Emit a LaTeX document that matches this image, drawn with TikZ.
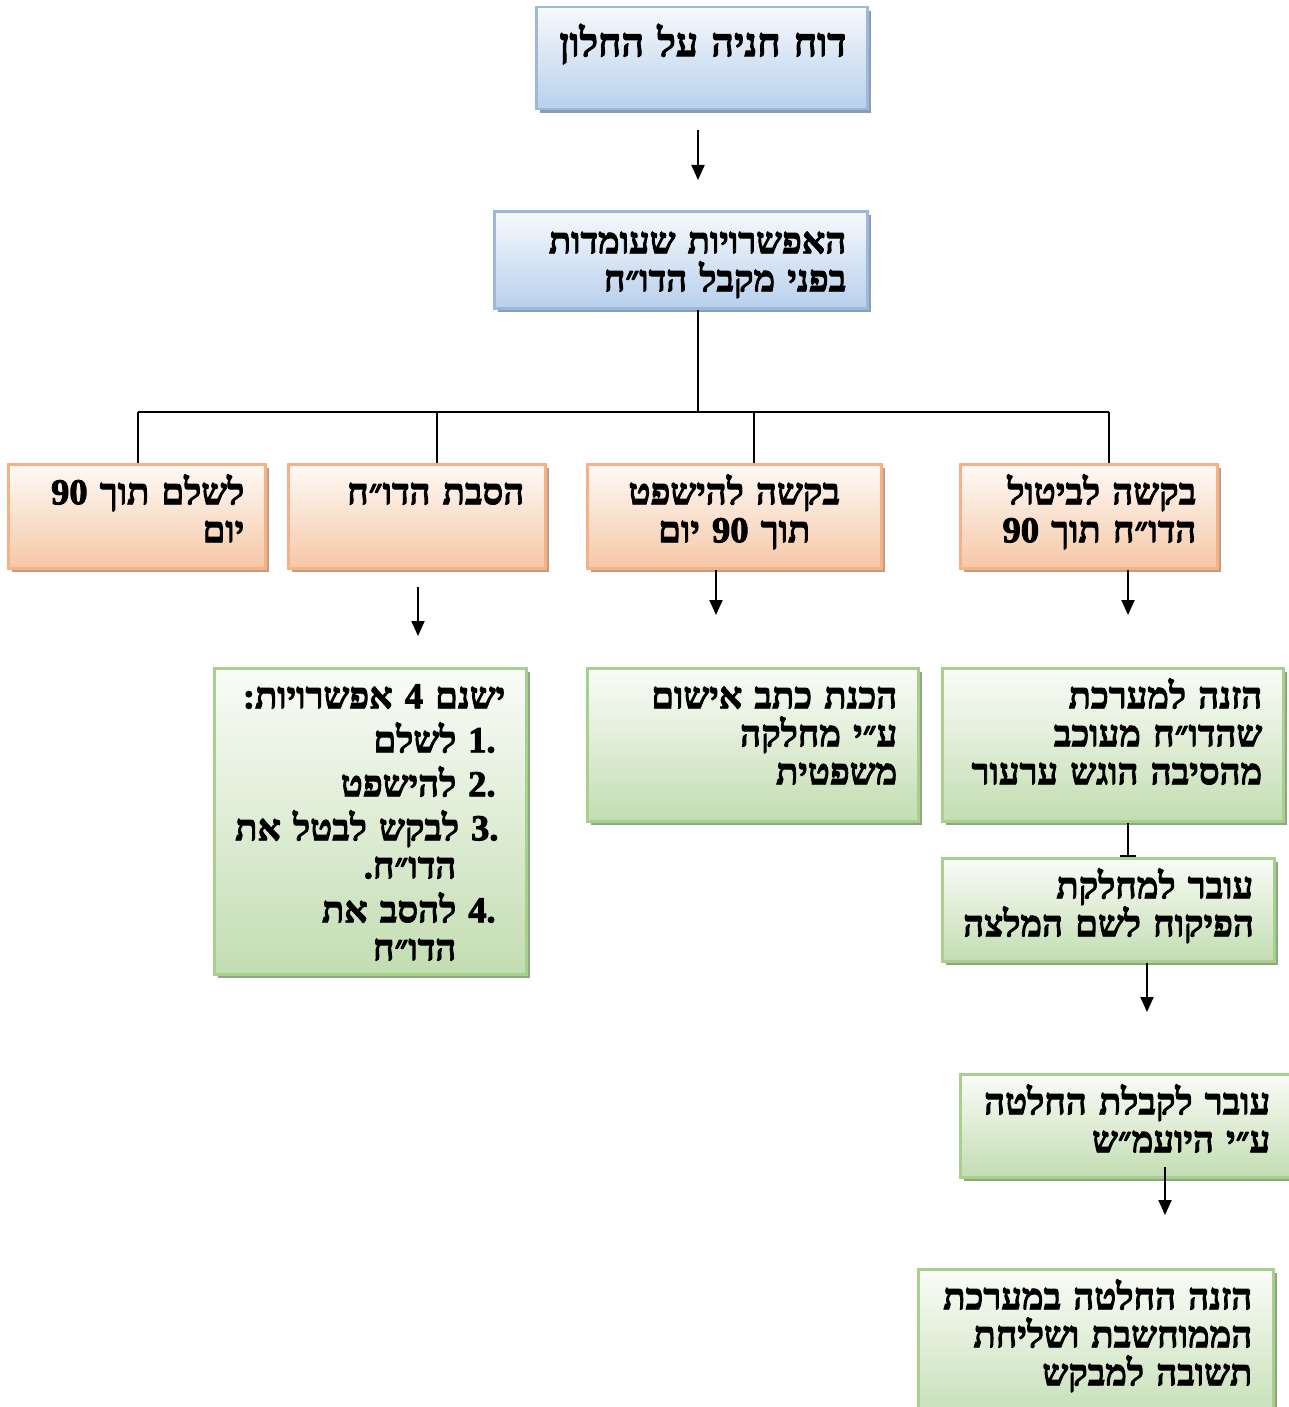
\documentclass[tikz,border=0pt]{standalone}
\usepackage{fontspec}
\usetikzlibrary{arrows.meta,shadows}
\TeXXeTstate=1
\newfontfamily\hebfont[Script=Hebrew, BoldFeatures={FakeBold=2.5}]{Liberation Serif}
\newcommand{\heb}[1]{\mbox{\beginR #1\endR}}
\definecolor{blueline}{HTML}{9CB9DC}
\definecolor{bluetop}{HTML}{F7F9FC}
\definecolor{bluebot}{HTML}{B8D0EC}
\definecolor{blueshade}{HTML}{8B9DB5}
\definecolor{orangeline}{HTML}{F5B286}
\definecolor{orangetop}{HTML}{FEFAF6}
\definecolor{orangebot}{HTML}{F6C8A7}
\definecolor{orangeshade}{HTML}{C19D86}
\definecolor{greenline}{HTML}{A8D08D}
\definecolor{greentop}{HTML}{FAFCF8}
\definecolor{greenbot}{HTML}{C3DDB2}
\definecolor{greenshade}{HTML}{90A583}
\tikzset{
  box/.style={draw, line width=2.5pt, anchor=north west, align=right,
    inner xsep=21pt, inner ysep=0pt, text height=40pt,
    font=\hebfont\bfseries\fontsize{36.5}{38}\selectfont},
  bluebox/.style={box, draw=blueline, top color=bluetop, bottom color=bluebot,
    general shadow={fill=blueshade, shadow xshift=4pt, shadow yshift=-4pt}},
  orangebox/.style={box, draw=orangeline, top color=orangetop, bottom color=orangebot,
    general shadow={fill=orangeshade, shadow xshift=4pt, shadow yshift=-4pt}},
  greenbox/.style={box, draw=greenline, top color=greentop, bottom color=greenbot,
    general shadow={fill=greenshade, shadow xshift=4pt, shadow yshift=-4pt}},
  link/.style={line width=2pt},
  arr/.style={link, -{Triangle[width=13pt,length=15pt]}},
  barend/.style={link, -{Bar[width=16pt]}}
}
\begin{document}
\begin{tikzpicture}[x=1pt,y=-1pt]
\useasboundingbox (0,0) rectangle (1289,1407);
% top
\node[bluebox, text width=289pt, text height=49pt, text depth=53pt,
  font=\hebfont\bfseries\fontsize{39.5}{42}\selectfont] (title) at (535,6) {\heb{דוח חניה על החלון}};
\node[bluebox, text width=331pt, text height=42pt, text depth=55pt] (sub) at (493,210)
  {\heb{האפשרויות שעומדות}\\\heb{בפני מקבל הדו״ח}};
% options
\node[orangebox, text width=215pt, text depth=64pt] (pA) at (7,463) {\heb{לשלם תוך 90}\\\heb{יום}};
\node[orangebox, text width=215pt, text depth=64pt] (pB) at (287,463) {\heb{הסבת הדו״ח}};
\node[orangebox, text width=252pt, text depth=64pt, align=center] (pC) at (586,463) {\heb{בקשה להישפט}\\\heb{תוך 90 יום}};
\node[orangebox, text width=215pt, text depth=64pt] (pD) at (959,463) {\heb{בקשה לביטול}\\\heb{הדו״ח תוך 90}};
% results
\node[greenbox, text width=270pt, text depth=266pt] (gA) at (213,667)
  {\heb{ישנם 4 אפשרויות\kern0pt:}\\[6pt]
   \heb{\makebox[49pt][r]{.1\kern12pt}לשלם}\\[6pt]
   \heb{\makebox[49pt][r]{.2\kern12pt}להישפט}\\[6pt]
   \heb{\makebox[49pt][r]{.3\kern12pt}לבקש לבטל את}\\
   \heb{\kern49pt הדו״ח\kern0pt.}\\[6pt]
   \heb{\makebox[49pt][r]{.4\kern12pt}להסב את}\\
   \heb{\kern49pt הדו״ח}};
\node[greenbox, text width=289pt, text depth=113pt] (gB) at (586,667)
  {\heb{הכנת כתב אישום}\\\heb{ע״י מחלקה}\\\heb{משפטית}};
\node[greenbox, text width=299pt, text depth=113pt] (gC) at (941,667)
  {\heb{הזנה למערכת}\\\heb{שהדו״ח מעוכב}\\\heb{מהסיבה הוגש ערעור}};
\node[greenbox, text width=290pt, text depth=63pt] (gD) at (941,857)
  {\heb{עובר למחלקת}\\\heb{הפיקוח לשם המלצה}};
\node[greenbox, text width=289pt, text depth=63pt] (gE) at (959,1073)
  {\heb{עובר לקבלת החלטה}\\\heb{ע״י היועמ״ש}};
\node[greenbox, text width=313pt, text depth=120pt] (gF) at (917,1268)
  {\heb{הזנה החלטה במערכת}\\\heb{הממוחשבת ושליחת}\\\heb{תשובה למבקש}};
% connectors
\coordinate (t1) at (698,130);
\coordinate (t2) at (698,180);
\draw[arr] (t1) -- (t2);
\coordinate (hub) at (698,412);
\coordinate (hA) at (138,412);
\coordinate (hB) at (437,412);
\coordinate (hC) at (754,412);
\coordinate (hD) at (1109,412);
\draw[link] (sub.south -| hub) -- (hub);
\draw[link] (hA) -- (hD);
\draw[link] (hA) -- (hA |- pA.north);
\draw[link] (hB) -- (hB |- pB.north);
\draw[link] (hC) -- (hC |- pC.north);
\draw[link] (hD) -- (hD |- pD.north);
\coordinate (b1) at (418,587);
\coordinate (b2) at (418,636);
\draw[arr] (b1) -- (b2);
\coordinate (c1) at (716,615);
\draw[arr] (pC.south -| c1) -- (c1);
\coordinate (d1) at (1128,615);
\draw[arr] (pD.south -| d1) -- (d1);
\draw[barend] (gC.south -| d1) -- (gD.north -| d1);
\coordinate (e1) at (1147,1012);
\draw[arr] (gD.south -| e1) -- (e1);
\coordinate (f1) at (1165,1167);
\coordinate (f2) at (1165,1215);
\draw[arr] (f1) -- (f2);
\end{tikzpicture}
\end{document}
